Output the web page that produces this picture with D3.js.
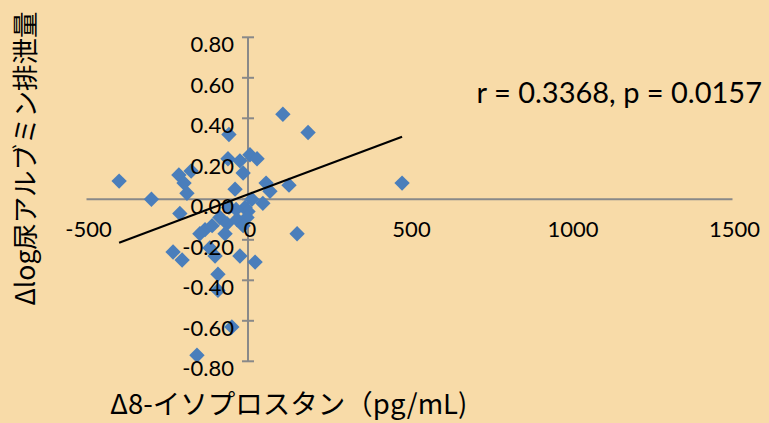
<!DOCTYPE html>
<html>
<head>
<meta charset="utf-8">
<script src="https://cdn.jsdelivr.net/npm/d3@7"></script>
<style>
  html, body { margin: 0; padding: 0; background: #F8DBA8; }
  svg { display: block; }
</style>
</head>
<body>
<svg id="chart" width="769" height="423"></svg>
<script>
// Δ8-isoprostane change (pg/mL) against change in log urinary albumin excretion
const isoprostaneDelta = [
  -399, -299, -214, -198, -176, -189, -59, 108, 186, -62,
  -25, 6, 28, -15, -40, 56, 68, 127, 46, 477,
  -211, -9, 0, 152, -87, -65, -34, -3, -133, -149,
  -232, -204, -118, -102, -25, 22, -93, -93, -50, -158,
  -71, -111, -37, 12, -59, -15
];
const albuminDelta = [
  0.09, 0.00, 0.12, 0.08, 0.14, 0.03, 0.32, 0.42, 0.33, 0.20,
  0.19, 0.22, 0.20, 0.13, 0.05, 0.08, 0.04, 0.07, -0.02, 0.08,
  -0.07, -0.04, -0.06, -0.17, -0.09, -0.12, -0.10, -0.09, -0.15, -0.17,
  -0.26, -0.30, -0.24, -0.28, -0.28, -0.31, -0.37, -0.45, -0.63, -0.77,
  -0.17, -0.13, -0.05, 0.00, -0.04, -0.13
];

// Least-squares line shown on the plot
const trendSlope = 0.000597;
const trendIntercept = 0.024;

const xTicks = [-500, 0, 500, 1000, 1500];
const xTickLabels = ["-500", "0", "500", "1000", "1500"];
const yTicks = [-0.8, -0.6, -0.4, -0.2, 0, 0.2, 0.4, 0.6, 0.8];
const yTickLabels = ["-0.80", "-0.60", "-0.40", "-0.20", "0.00", "0.20", "0.40", "0.60", "0.80"];

const statsText = "r = 0.3368, p = 0.0157";
const xTitle = "Δ8-イソプロスタン（pg/mL)";
const yTitle = "Δlog尿アルブミン排泄量";

const svg = d3.select("#chart");
const W = 769, H = 423;

svg.append("rect").attr("width", W).attr("height", H).attr("fill", "#F8DBA8");

const x = d3.scaleLinear().domain([-500, 1500]).range([86.5, 732.5]);
const y = d3.scaleLinear().domain([-0.8, 0.8]).range([361.3, 37.3]);

const axisColor = "#898989";
const numFont = "Lato, 'Open Sans', sans-serif";
const jpFont = "'Noto Sans CJK JP', sans-serif";

// Axes cross at the origin
const axes = svg.append("g");
axes.append("line")
  .attr("x1", x(-500)).attr("x2", x(1500))
  .attr("y1", y(0)).attr("y2", y(0))
  .attr("stroke", axisColor).attr("stroke-width", 2);
axes.append("line")
  .attr("x1", x(0)).attr("x2", x(0))
  .attr("y1", y(0.8)).attr("y2", y(-0.8))
  .attr("stroke", axisColor).attr("stroke-width", 2);
axes.selectAll("line.ytick")
  .data(yTicks)
  .join("line")
  .attr("class", "ytick")
  .attr("x1", x(0) - 6).attr("x2", x(0) + 6)
  .attr("y1", d => y(d)).attr("y2", d => y(d))
  .attr("stroke", axisColor).attr("stroke-width", 2);

// Scatter points as diamonds
const diamond = d3.symbol().type(d3.symbolSquare).size(118);
const points = isoprostaneDelta.map((v, i) => [v, albuminDelta[i]]);
svg.append("g")
  .selectAll("path")
  .data(points)
  .join("path")
  .attr("d", diamond)
  .attr("transform", d => `translate(${x(d[0])},${y(d[1])}) rotate(45)`)
  .attr("fill", "#4A7EBB");

// Regression line over the range of the data
const xMin = d3.min(isoprostaneDelta), xMax = d3.max(isoprostaneDelta);
svg.append("line")
  .attr("x1", x(xMin)).attr("y1", y(trendIntercept + trendSlope * xMin))
  .attr("x2", x(xMax)).attr("y2", y(trendIntercept + trendSlope * xMax))
  .attr("stroke", "#000").attr("stroke-width", 2.2);

// Tick labels
svg.append("g")
  .selectAll("text")
  .data(yTicks)
  .join("text")
  .attr("x", 234)
  .attr("y", d => y(d) + 15)
  .attr("text-anchor", "end")
  .attr("font-family", numFont)
  .attr("font-size", 22)
  .attr("fill", "#000")
  .text((d, i) => yTickLabels[i]);

svg.append("g")
  .selectAll("text")
  .data(xTicks)
  .join("text")
  .attr("x", d => x(d) + 2)
  .attr("y", y(0) + 38)
  .attr("text-anchor", "middle")
  .attr("font-family", numFont)
  .attr("font-size", 22)
  .attr("fill", "#000")
  .text((d, i) => xTickLabels[i]);

// Correlation annotation
svg.append("text")
  .attr("x", 762).attr("y", 103)
  .attr("text-anchor", "end")
  .attr("font-family", numFont)
  .attr("font-size", 29)
  .attr("fill", "#000")
  .text(statsText);

// Axis titles
svg.append("text")
  .attr("x", 110).attr("y", 414)
  .attr("font-family", jpFont)
  .attr("font-size", 27.5)
  .attr("fill", "#000")
  .text(xTitle);

svg.append("text")
  .attr("transform", "translate(23.5,158.5) rotate(-90)")
  .attr("text-anchor", "middle")
  .attr("dominant-baseline", "central")
  .attr("font-family", jpFont)
  .attr("font-size", 26.5)
  .attr("fill", "#000")
  .text(yTitle);
</script>
</body>
</html>
